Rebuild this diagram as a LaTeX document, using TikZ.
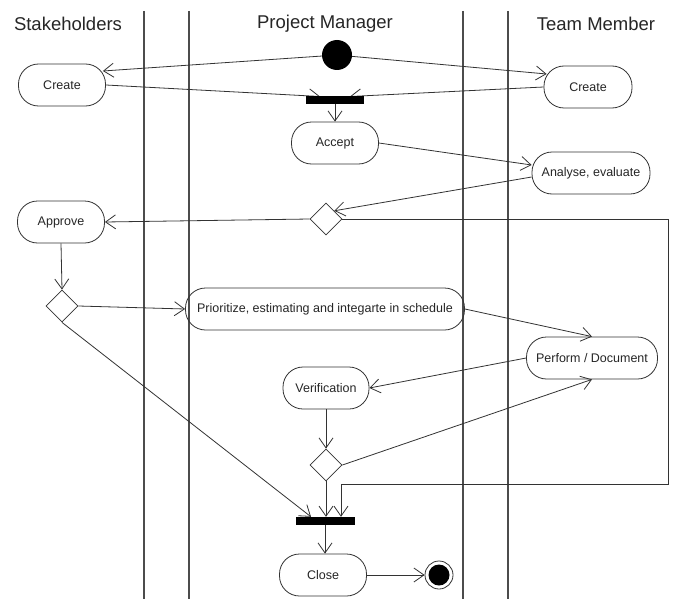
\documentclass[tikz,border=0pt]{standalone}
\usepackage{fontspec}
\setmainfont{Liberation Sans}
\usetikzlibrary{arrows.meta,
                shapes.geometric}

\tikzset{
  activity/.style={draw=black!80, line width=0.8pt, rounded corners=20pt,
    minimum height=42pt, minimum width=87pt, inner sep=2pt,
    font=\fontsize{12.5}{14}\selectfont, text=black!85},
  decision/.style={diamond, draw=black!80, line width=0.8pt,
    minimum width=32pt, minimum height=32pt, inner sep=0pt},
  syncbar/.style={rectangle, fill=black, minimum height=7pt,
    minimum width=58pt, inner sep=0pt},
  initial/.style={circle, fill=black, minimum size=30pt, inner sep=0pt},
  final/.style={circle, draw=black!80, line width=0.8pt, minimum size=28pt,
    inner sep=0pt, path picture={\fill[black] (path picture bounding box.center) circle (10.5pt);}},
  flow/.style={draw=black!80, line width=0.8pt, -{Straight Barb[length=10pt,width=14pt]}},
  lane/.style={draw=black!70, line width=1.2pt},
  lanetitle/.style={font=\fontsize{18.5}{22}\selectfont, text=black!85}
}

\begin{document}
\begin{tikzpicture}[x=1pt, y=-1pt]
    % Page size of the picture
    \fill[white] (0,0) rectangle (676,599);
    \useasboundingbox (0,0) rectangle (676,599);

    % Swimlane separators and lane titles
    \draw[lane] (144,11) -- (144,599);
    \draw[lane] (189,11) -- (189,599);
    \draw[lane] (463,11) -- (463,599);
    \draw[lane] (508,11) -- (508,599);
    \node[lanetitle] (tstake) at (68,24) {Stakeholders};
    \node[lanetitle] (tpm) at (325,24) {Project Manager};
    \node[lanetitle] (tteam) at (596,24) {Team Member};

    % Activities, decisions and bars
    \node[initial] (start) at (337,55) {};
    \node[activity] (cl) at (62,85) {Create};
    \node[activity, minimum width=88pt] (cr) at (588,87) {Create};
    \node[activity] (acc) at (335,143) {Accept};
    \node[activity, minimum width=118pt] (an) at (591,173) {Analyse, evaluate};
    \node[decision] (d1) at (326,219) {};
    \node[activity] (ap) at (61,222) {Approve};
    \node[decision] (d2) at (62,306) {};
    \node[activity, minimum width=279pt] (pr) at (325,309) {Prioritize, estimating and integarte in schedule};
    \node[activity, minimum width=131pt] (pf) at (592,358) {Perform / Document};
    \node[activity, minimum width=86pt] (ver) at (326,388) {Verification};
    \node[decision] (d3) at (326,465) {};
    \node[syncbar, minimum width=59pt, minimum height=8pt] (join) at (325,521) {};
    \node[activity] (cls) at (323,575) {Close};
    \node[final] (fin) at (439,575) {};
    \coordinate (corner) at (668,484);

    % Incoming flows of the fork go under the bar
    \coordinate (forkl) at (320,96.5);
    \coordinate (forkr) at (350,96.5);
    \draw[flow] (cl.east) -- (forkl);
    \draw[flow] (cr.west) -- (forkr);
    \node[syncbar] (fork) at (335,100) {};

    % Control flow
    \draw[flow] (start) -- ([xshift=-3pt,yshift=14pt]cl.east);
    \draw[flow] (start) -- ([xshift=3pt,yshift=13pt]cr.west);
    \draw[flow] (fork.south) -- (acc.north);
    \draw[flow] (acc.east) -- ([yshift=8pt]an.west);
    \draw[flow] ([yshift=-4pt]an.west) -- (d1.north east);
    \draw[flow] (d1.west) -- (ap.east);
    \draw[flow] (ap.south) -- (d2.north);
    \draw[flow] (d2.east) -- (pr.west);
    \draw[flow] (d2.south) -- ([xshift=-14pt]join.north);
    \draw[flow] (pr.east) -- (pf.north);
    \draw[flow] (pf.west) -- (ver.east);
    \draw[flow] (ver.south) -- (d3.north);
    \draw[flow] (d3.east) -- (pf.south);
    \draw[flow] (d3.south) -- (d3.south |- join.north);
    \draw[flow] (d1.east) -| (corner) -| ([xshift=16pt]join.north);
    \draw[flow] (join.south) -- (join.south |- cls.north);
    \draw[flow] (cls) -- (fin);
\end{tikzpicture}
\end{document}
